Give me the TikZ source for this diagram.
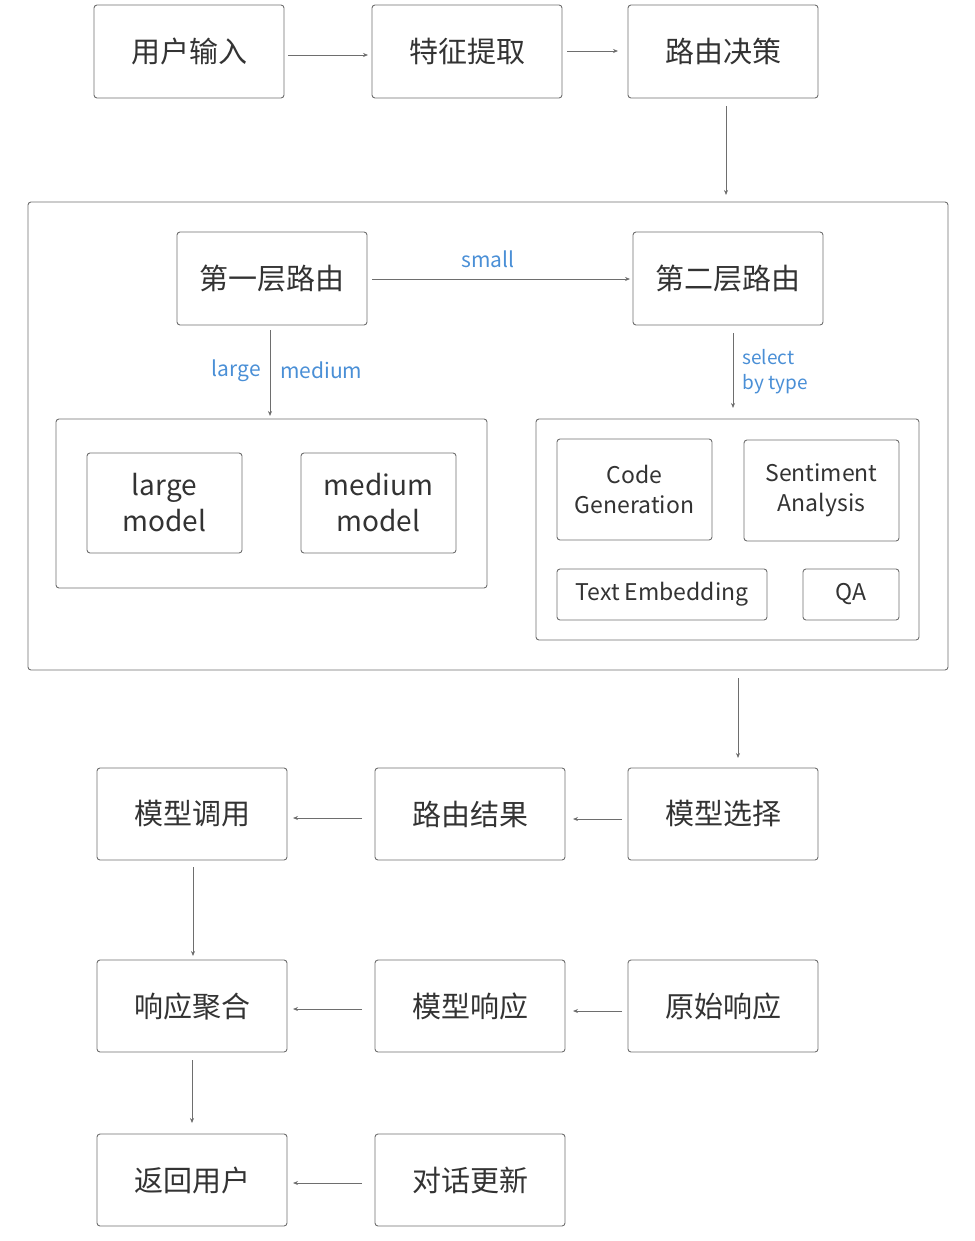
\documentclass[tikz,border=0pt]{standalone}
\usepackage{fontspec}
\setmainfont{Noto Sans CJK SC}
\usetikzlibrary{arrows.meta,calc}
\definecolor{edge}{HTML}{6E6E6E}
\definecolor{ink}{HTML}{333333}
\definecolor{lbl}{HTML}{4A8FD6}
\tikzset{
  box/.style={draw=edge, line width=0.9pt, rounded corners=3pt, text=ink, inner sep=0pt, align=center},
  cn/.style={box, font=\fontsize{29}{32}\selectfont},
  en/.style={box, font=\fontsize{28}{36}\selectfont},
  ensm/.style={box, font=\fontsize{23}{30}\selectfont},
  link/.style={draw=edge, line width=0.7pt, -{Stealth[length=5pt,width=4pt]}},
  tag/.style={text=lbl, font=\fontsize{21}{24}\selectfont, inner sep=1pt, align=left}
}
% place a box by its pixel corners: x1,y1,x2,y2
\newcommand{\pbox}[7]{%
  \node[#1, minimum width=#4pt-#2pt, minimum height=#5pt-#3pt] (#6) at ({(#2+#4)/2},{(#3+#5)/2}) {#7};}
\begin{document}
\begin{tikzpicture}[x=1pt,y=-1pt]
\useasboundingbox (0,0) rectangle (974,1241);

% top row
\pbox{cn}{94}{5}{284}{98}{input}{用户输入}
\pbox{cn}{372}{5}{562}{98}{feat}{特征提取}
\pbox{cn}{628}{5}{818}{98}{decide}{路由决策}

% routing container
\pbox{box}{28}{202}{948}{670}{outer}{}
\pbox{cn}{177}{232}{367}{325}{first}{第一层路由}
\pbox{cn}{633}{232}{823}{325}{second}{第二层路由}

\pbox{box}{56}{419}{487}{588}{leftgrp}{}
\pbox{en}{87}{453}{242}{553}{large}{large\\model}
\pbox{en}{301}{453}{456}{553}{medium}{medium\\model}

\pbox{box}{536}{419}{919}{640}{rightgrp}{}
\pbox{ensm}{557}{439}{712}{540}{code}{Code\\Generation}
\pbox{ensm}{744}{440}{899}{541}{senti}{Sentiment\\Analysis}
\pbox{ensm}{557}{569}{767}{620}{embed}{Text Embedding}
\pbox{ensm}{803}{569}{899}{620}{qa}{QA}

% lower rows
\pbox{cn}{97}{768}{287}{860}{invoke}{模型调用}
\pbox{cn}{375}{768}{565}{860}{result}{路由结果}
\pbox{cn}{628}{768}{818}{860}{select}{模型选择}

\pbox{cn}{97}{960}{287}{1052}{aggr}{响应聚合}
\pbox{cn}{375}{960}{565}{1052}{mresp}{模型响应}
\pbox{cn}{628}{960}{818}{1052}{raw}{原始响应}

\pbox{cn}{97}{1134}{287}{1226}{back}{返回用户}
\pbox{cn}{375}{1134}{565}{1226}{update}{对话更新}

% connector end points (small gaps in front of boxes)
\coordinate (a1s) at (288,55);  \coordinate (a1e) at (368,55);
\coordinate (a2s) at (567,51);  \coordinate (a2e) at (618,51);
\coordinate (a3s) at (726,106); \coordinate (a3e) at (726,195);
\coordinate (b1s) at (372,279); \coordinate (b1e) at (630,279);
\coordinate (b2s) at (270,330); \coordinate (b2e) at (270,416);
\coordinate (b3s) at (733,333); \coordinate (b3e) at (733,408);
\coordinate (c0s) at (738,678); \coordinate (c0e) at (738,758);
\coordinate (c1s) at (362,818); \coordinate (c1e) at (293,818);
\coordinate (c2s) at (622,819); \coordinate (c2e) at (573,819);
\coordinate (c3s) at (193,867); \coordinate (c3e) at (193,956);
\coordinate (d1s) at (362,1009); \coordinate (d1e) at (293,1009);
\coordinate (d2s) at (622,1011); \coordinate (d2e) at (573,1011);
\coordinate (d3s) at (192,1060); \coordinate (d3e) at (192,1123);
\coordinate (e1s) at (362,1183); \coordinate (e1e) at (293,1183);

% connectors
\draw[link] (a1s) -- (a1e);
\draw[link] (a2s) -- (a2e);
\draw[link] (a3s) -- (a3e);

\draw[link] (b1s) -- (b1e) node[pos=0.45, above=10pt, tag] {small};
\draw[link] (b2s) -- (b2e)
  node[pos=0.47, left=8pt, tag] {large}
  node[pos=0.47, right=9pt, tag] {medium};
\draw[link] (b3s) -- (b3e)
  node[pos=0.52, right=8pt, tag, font=\fontsize{19}{25}\selectfont] {select\\by type};

\draw[link] (c0s) -- (c0e);
\draw[link] (c1s) -- (c1e);
\draw[link] (c2s) -- (c2e);
\draw[link] (c3s) -- (c3e);
\draw[link] (d1s) -- (d1e);
\draw[link] (d2s) -- (d2e);
\draw[link] (d3s) -- (d3e);
\draw[link] (e1s) -- (e1e);
\end{tikzpicture}
\end{document}
